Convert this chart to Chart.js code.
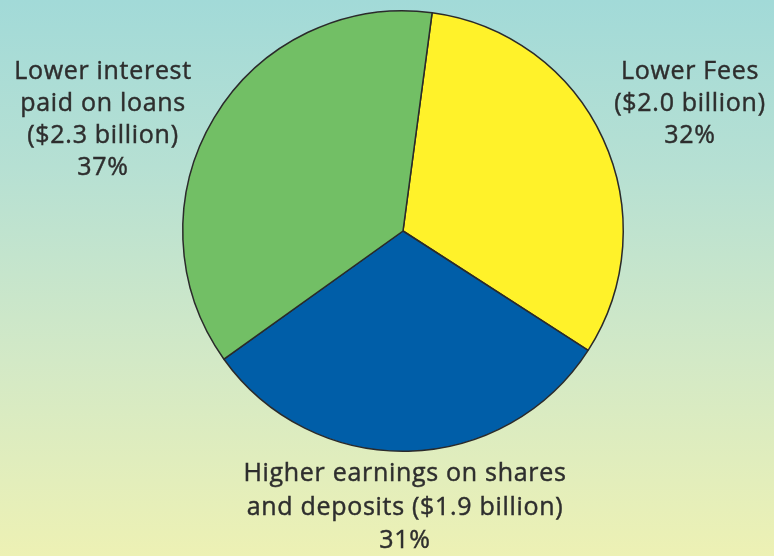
<!DOCTYPE html>
<html>
<head>
<meta charset="utf-8">
<script src="https://cdn.jsdelivr.net/npm/chart.js@4/dist/chart.umd.min.js"></script>
<style>
html,body{margin:0;padding:0;}
body{width:774px;height:556px;overflow:hidden;background:linear-gradient(to bottom,#a2dad8 0%,#b6e0d3 30%,#d3e9c6 65%,#edf1b4 100%);}
#wrap{width:774px;height:556px;position:relative;}
</style>
</head>
<body>
<div id="wrap"><canvas id="c" width="774" height="556"></canvas></div>
<script>
const categories = ["Lower Fees", "Higher earnings on shares and deposits", "Lower interest paid on loans"];
const percents = [32, 31, 37];
const billions = ["$2.0", "$1.9", "$2.3"];
const colors = ["#fff22a", "#005ea8", "#72bf65"];
const labelLines = [
  ["Lower Fees", "($2.0 billion)", "32%"],
  ["Higher earnings on shares", "and deposits ($1.9 billion)", "31%"],
  ["Lower interest", "paid on loans", "($2.3 billion)", "37%"]
];

const labelPlugin = {
  id: 'labels',
  afterDraw(chart) {
    const ctx = chart.ctx;
    const arc = chart.getDatasetMeta(0).data[0];
    const cx = arc.x, cy = arc.y;
    // anchor offsets relative to pie centre
    const anchors = [[287, -159, 32], [2, 243, 33.5], [-300, -159, 32]];
    ctx.save();
    ctx.fillStyle = '#2e2e2e';
    ctx.strokeStyle = '#2e2e2e';
    ctx.lineWidth = 0.45;
    ctx.font = '25px "Open Sans", "Noto Sans", sans-serif';
    if ('letterSpacing' in ctx) ctx.letterSpacing = '0.7px';
    ctx.textAlign = 'center';
    ctx.textBaseline = 'middle';
    labelLines.forEach((lines, i) => {
      const [ax, ay, lh] = anchors[i];
      lines.forEach((t, j) => {
        ctx.fillText(t, cx + ax, cy + ay + j * lh);
        ctx.strokeText(t, cx + ax, cy + ay + j * lh);
      });
    });
    ctx.restore();
  }
};

new Chart(document.getElementById('c'), {
  type: 'pie',
  data: {
    labels: categories,
    datasets: [{
      data: percents,
      backgroundColor: colors,
      borderColor: '#2a2a2a',
      borderWidth: 1.5
    }]
  },
  options: {
    responsive: false,
    animation: false,
    rotation: 7.6,
    layout: { padding: { left: 32, right: 0, top: 10, bottom: 104 } },
    plugins: { legend: { display: false }, tooltip: { enabled: false } }
  },
  plugins: [labelPlugin]
});
</script>
</body>
</html>
